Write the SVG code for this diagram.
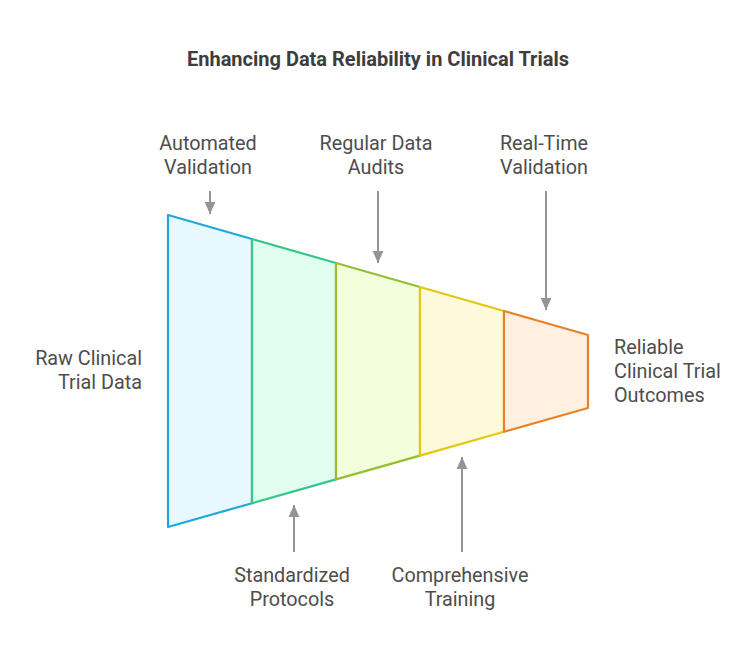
<svg xmlns="http://www.w3.org/2000/svg" width="756" height="660" viewBox="0 0 756 660">
<defs>
<style>
.t{font-family:Roboto,"Liberation Sans",sans-serif;font-size:19.8px;fill:#4d4d4d}
.title{font-family:Roboto,"Liberation Sans",sans-serif;font-size:20px;font-weight:bold;fill:#3d3d3d}
.seg{stroke-width:2.2;stroke-linejoin:round}
.arr{stroke:#949494;stroke-width:2;fill:none}
</style>
<marker id="a" viewBox="0 0 10 10" refX="10" refY="5" markerWidth="12" markerHeight="12" orient="auto" markerUnits="userSpaceOnUse">
<path d="M0,0.5 L10,5 L0,9.5 z" fill="#949494"/>
</marker>
</defs>
<rect width="756" height="660" fill="#fff"/>
<text class="title" x="378" y="66" text-anchor="middle">Enhancing Data Reliability in Clinical Trials</text>
<g id="funnel">
<g id="seg1"><polygon class="seg" points="168,215 252,239 252,503.2 168,527" fill="#e7f8fe" stroke="#1ea9db"/></g>
<g id="seg2"><polygon class="seg" points="252,239 336,263 336,479.4 252,503.2" fill="#e0fdef" stroke="#34c68a"/></g>
<g id="seg3"><polygon class="seg" points="336,263 420,287 420,455.6 336,479.4" fill="#f3fedc" stroke="#94bf2e"/></g>
<g id="seg4"><polygon class="seg" points="420,287 504,311 504,431.8 420,455.6" fill="#fff9dc" stroke="#e2c80e"/></g>
<g id="seg5"><polygon class="seg" points="504,311 588,335 588,408 504,431.8" fill="#fff0e2" stroke="#e8822a"/></g>
</g>
<g id="connectors">
<line class="arr" x1="210" y1="191" x2="210" y2="214" marker-end="url(#a)"/>
<line class="arr" x1="378" y1="191" x2="378" y2="263" marker-end="url(#a)"/>
<line class="arr" x1="546" y1="191" x2="546" y2="310" marker-end="url(#a)"/>
<line class="arr" x1="294" y1="552" x2="294" y2="505" marker-end="url(#a)"/>
<line class="arr" x1="462" y1="552" x2="462" y2="457" marker-end="url(#a)"/>
</g>
<g id="label-automated"><text class="t" x="208" y="150" text-anchor="middle">Automated</text><text class="t" x="208" y="174" text-anchor="middle">Validation</text></g>
<g id="label-audits"><text class="t" x="376" y="150" text-anchor="middle">Regular Data</text><text class="t" x="376" y="174" text-anchor="middle">Audits</text></g>
<g id="label-realtime"><text class="t" x="544" y="150" text-anchor="middle">Real-Time</text><text class="t" x="544" y="174" text-anchor="middle">Validation</text></g>
<g id="label-raw"><text class="t" x="142" y="365" text-anchor="end">Raw Clinical</text><text class="t" x="142" y="389" text-anchor="end">Trial Data</text></g>
<g id="label-reliable"><text class="t" x="614" y="354">Reliable</text><text class="t" x="614" y="378">Clinical Trial</text><text class="t" x="614" y="402">Outcomes</text></g>
<g id="label-standardized"><text class="t" x="292" y="582" text-anchor="middle">Standardized</text><text class="t" x="292" y="606" text-anchor="middle">Protocols</text></g>
<g id="label-training"><text class="t" x="460" y="582" text-anchor="middle">Comprehensive</text><text class="t" x="460" y="606" text-anchor="middle">Training</text></g>
</svg>
